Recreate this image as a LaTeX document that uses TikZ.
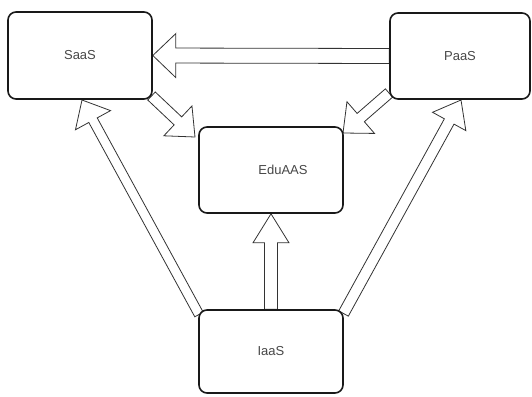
\documentclass[tikz,border=0pt]{standalone}
\usepackage{fontspec}
\setmainfont{Liberation Sans}
\usetikzlibrary{calc,backgrounds}
\tikzset{
  box/.style={draw=black!90, line width=1.6pt, rounded corners=8pt, fill=white,
    text=black!72, font=\fontsize{13}{15}\selectfont, inner sep=0pt},
  blk/.style={draw=black!80, line width=0.8pt, fill=white, line join=miter},
}
% start, tip, shaft half width, head half width, head length
\newcommand{\flexarr}[5]{%
  \coordinate (fa-h) at ($(#2)!#5!(#1)$);
  \draw[blk] ($(#1)!#3!90:(#2)$) -- ($(fa-h)!#3!-90:(#1)$) -- ($(fa-h)!#4!-90:(#1)$)
    -- (#2) -- ($(fa-h)!#4!90:(#1)$) -- ($(fa-h)!#3!90:(#1)$) -- ($(#1)!#3!-90:(#2)$) -- cycle;
}
\begin{document}
\begin{tikzpicture}[x=1pt,y=-1pt]
\useasboundingbox (0,0) rectangle (532,396);
\node[box, minimum width=144pt, minimum height=87pt] (saas) at (80,55.5) {SaaS};
\node[box, minimum width=140pt, minimum height=86pt] (paas) at (460,56) {PaaS};
\node[box, minimum width=144pt, minimum height=86pt] (edu) at (271,170) {\hspace*{24pt}EduAAS};
\node[box, minimum width=144pt, minimum height=83pt] (iaas) at (271,351.5) {IaaS};
\coordinate (se1) at (151.5,96);
\coordinate (se2) at (195,137);
\coordinate (pe1) at (389,93);
\coordinate (pe2) at (343,133);
\coordinate (is1) at (199,314.5);
\coordinate (is2) at (82,100);
\coordinate (ip1) at (343.5,313.5);
\coordinate (ip2) at (461,100);
\begin{pgfonlayer}{background}
\flexarr{paas.west}{saas.east}{7.5pt}{22pt}{23pt}
\flexarr{se1}{se2}{5.5pt}{20.5pt}{23.5pt}
\flexarr{pe1}{pe2}{5.5pt}{21pt}{23.5pt}
\flexarr{is1}{is2}{4.8pt}{20pt}{23pt}
\flexarr{ip1}{ip2}{5.5pt}{19pt}{24.5pt}
\flexarr{iaas.north}{edu.south}{6.5pt}{18pt}{29pt}
\end{pgfonlayer}
\end{tikzpicture}
\end{document}
